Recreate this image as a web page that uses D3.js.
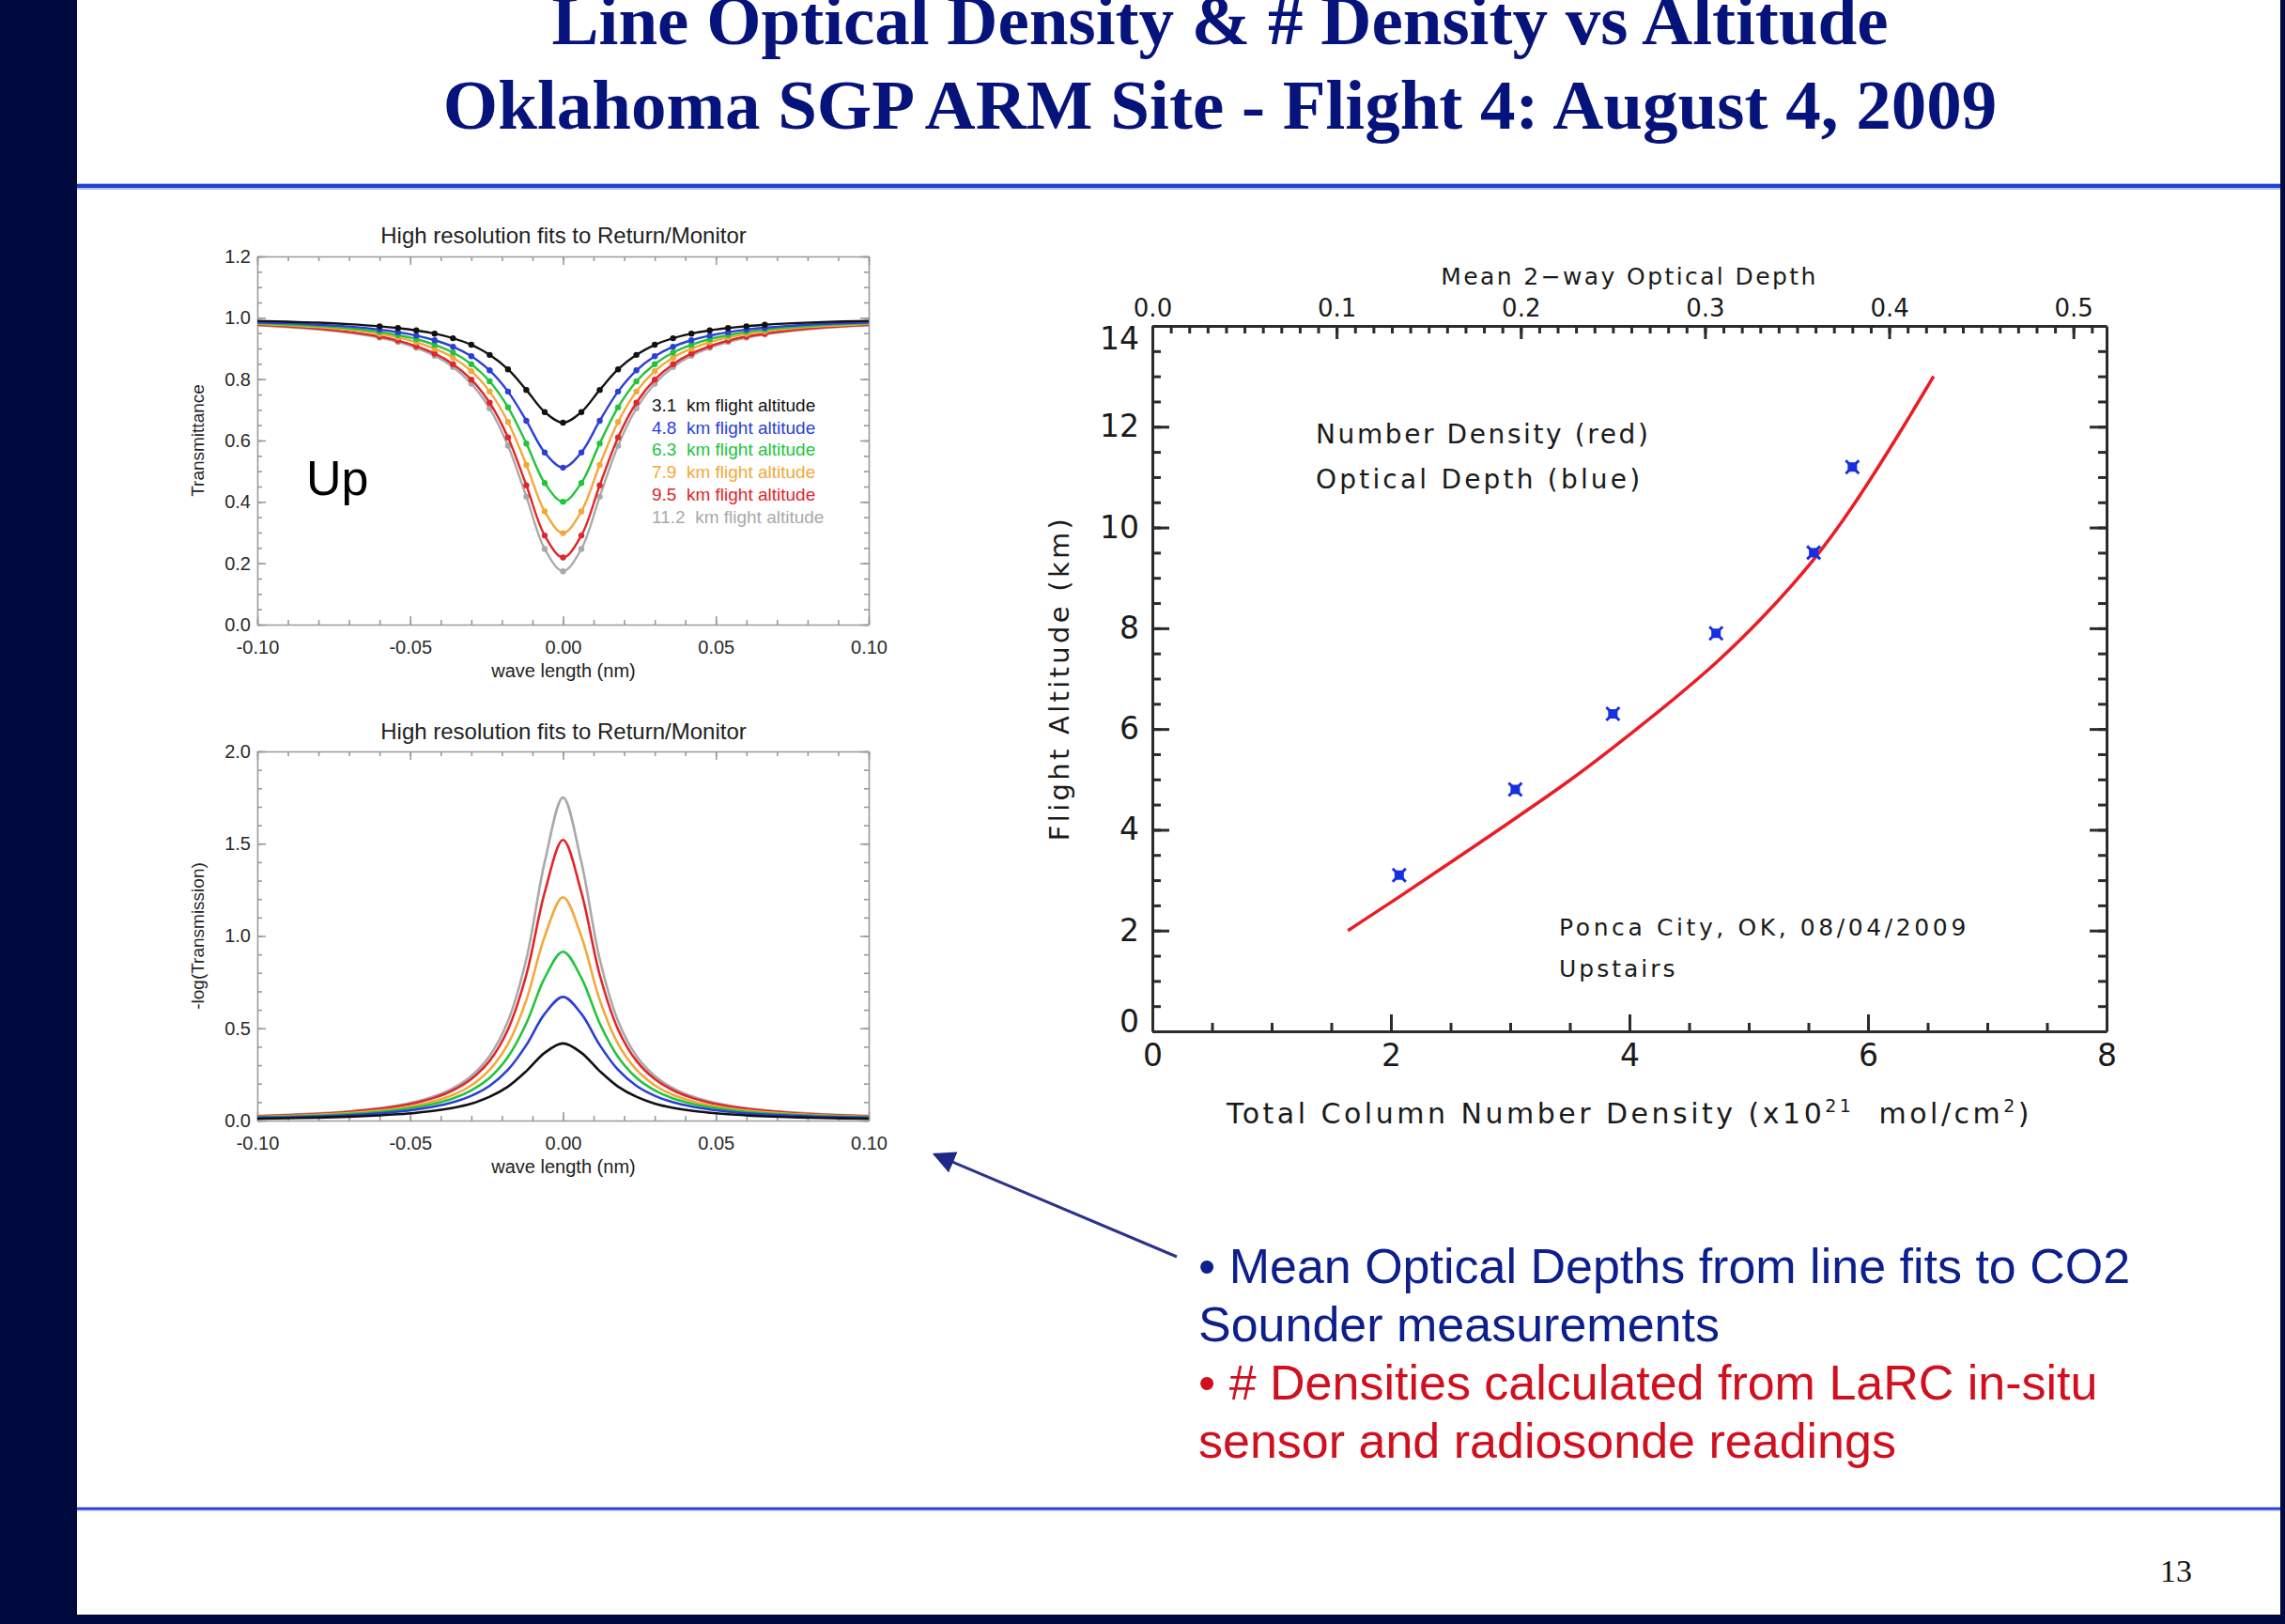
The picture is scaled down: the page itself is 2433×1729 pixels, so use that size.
<!DOCTYPE html>
<html>
<head>
<meta charset="utf-8">
<script src="https://cdn.jsdelivr.net/npm/d3@7"></script>
<style>
body{margin:0;background:#fff;}
svg{display:block;}
</style>
</head>
<body>
<div id="slide"></div>
<script>
// wavelength grid (nm) of the line fits
var waveNm = [-0.100,-0.090,-0.080,-0.070,-0.060,-0.054,-0.048,-0.042,-0.036,-0.030,-0.024,-0.018,-0.012,-0.006,0.000,
  0.006,0.012,0.018,0.024,0.030,0.036,0.042,0.048,0.054,0.060,0.066,0.075,0.085,0.100];

// -log(Transmission), one array per flight altitude
var abs31  = [0.010,0.013,0.016,0.021,0.028,0.034,0.042,0.053,0.069,0.092,0.129,0.184,0.268,0.367,0.418,0.367,0.268,0.184,0.129,0.092,0.069,0.053,0.042,0.034,0.028,0.023,0.018,0.014,0.010];
var abs48  = [0.015,0.018,0.023,0.029,0.039,0.048,0.060,0.076,0.099,0.134,0.188,0.275,0.409,0.578,0.670,0.578,0.409,0.275,0.188,0.134,0.099,0.076,0.060,0.048,0.039,0.033,0.026,0.020,0.015];
var abs63  = [0.018,0.022,0.027,0.035,0.047,0.058,0.072,0.092,0.120,0.164,0.232,0.345,0.527,0.773,0.915,0.773,0.527,0.345,0.232,0.164,0.120,0.092,0.072,0.058,0.047,0.039,0.031,0.024,0.018];
var abs79  = [0.020,0.025,0.031,0.040,0.054,0.066,0.083,0.106,0.139,0.191,0.275,0.415,0.653,0.997,1.210,0.997,0.653,0.415,0.275,0.191,0.139,0.106,0.083,0.066,0.054,0.045,0.035,0.028,0.020];
var abs95  = [0.023,0.029,0.036,0.047,0.063,0.077,0.097,0.124,0.164,0.225,0.324,0.494,0.790,1.236,1.520,1.236,0.790,0.494,0.324,0.225,0.164,0.124,0.097,0.077,0.063,0.053,0.041,0.032,0.023];
var abs112 = [0.025,0.031,0.039,0.050,0.067,0.082,0.103,0.132,0.175,0.242,0.350,0.539,0.875,1.400,1.750,1.400,0.875,0.539,0.350,0.242,0.175,0.132,0.103,0.082,0.067,0.056,0.044,0.034,0.025];

var altitudesKm = [3.1, 4.8, 6.3, 7.9, 9.5, 11.2];

// right panel: number density fit (red) and optical depth points (blue)
var fitDensity  = [1.64, 2.06, 2.5, 3.04, 3.5, 3.86, 4.3, 4.73, 5.15, 5.55, 5.86, 6.26, 6.55];
var fitAltitude = [2.0, 2.65, 3.35, 4.22, 4.97, 5.62, 6.45, 7.3, 8.28, 9.35, 10.35, 11.85, 13.0];
var obsOpticalDepth = [0.134, 0.197, 0.250, 0.306, 0.359, 0.380];

// tick labels
var transTicks = [0.0, 0.2, 0.4, 0.6, 0.8, 1.0, 1.2];
var absTicks = [0.0, 0.5, 1.0, 1.5, 2.0];
var waveTicks = [-0.10, -0.05, 0.00, 0.05, 0.10];
var densTicks = [0, 2, 4, 6, 8];
var altTicks = [0, 2, 4, 6, 8, 10, 12, 14];
var odTicks = [0.0, 0.1, 0.2, 0.3, 0.4, 0.5];

var seriesColor = ["#111111", "#2b3fd6", "#22c43c", "#f3a83a", "#e0262a", "#a9a9a9"];
var absSeries = [abs31, abs48, abs63, abs79, abs95, abs112];

var W = 2433, H = 1729;
var navy = "#010a3e";

var svg = d3.select("#slide").append("svg")
  .attr("width", W).attr("height", H);

svg.append("rect").attr("width", W).attr("height", H).attr("fill", "#fff");

// slide frame
svg.append("rect").attr("x", 0).attr("y", 0).attr("width", 82).attr("height", H).attr("fill", navy);
svg.append("rect").attr("x", 2428).attr("y", 0).attr("width", 5).attr("height", H).attr("fill", navy);
svg.append("rect").attr("x", 0).attr("y", 1719).attr("width", W).attr("height", 10).attr("fill", navy);

svg.append("rect").attr("x", 82).attr("y", 195).attr("width", 2346).attr("height", 7).attr("fill", "#b8c2f0");
svg.append("rect").attr("x", 82).attr("y", 196).attr("width", 2346).attr("height", 4).attr("fill", "#2443d6");
svg.append("rect").attr("x", 82).attr("y", 1604).attr("width", 2346).attr("height", 5).attr("fill", "#c2cbf2");
svg.append("rect").attr("x", 82).attr("y", 1605).attr("width", 2346).attr("height", 2.5).attr("fill", "#2443d6");

// title
var title = svg.append("g")
  .attr("font-family", "'Liberation Serif', 'Times New Roman', serif")
  .attr("font-weight", "bold")
  .attr("font-size", 75)
  .attr("fill", "#06137a")
  .attr("text-anchor", "middle");
title.append("text").attr("x", 1299).attr("y", 47).text("Line Optical Density & # Density vs Altitude");
title.append("text").attr("x", 1299).attr("y", 137).text("Oklahoma SGP ARM Site - Flight 4: August 4, 2009");

// page number
svg.append("text").attr("x", 2300).attr("y", 1684)
  .attr("font-family", "'Liberation Serif', serif").attr("font-size", 34).attr("fill", "#111")
  .text("13");

// box with inward ticks on all four sides
function boxSide(g, gen, scale, transform, major, minor, o, showLabels) {
  var a = g.append("g").attr("transform", transform)
    .call(gen(scale).tickValues(minor).tickSize(-o.minLen).tickSizeOuter(0).tickFormat(""));
  var b = g.append("g").attr("transform", transform)
    .call(gen(scale).tickValues(major).tickSize(-o.majLen).tickSizeOuter(0)
      .tickPadding(o.pad).tickFormat(showLabels ? o.fmt : ""));
  a.select(".domain").attr("stroke", o.color).attr("stroke-width", o.width);
  b.select(".domain").remove();
  [a, b].forEach(function(s) {
    s.selectAll(".tick line").attr("stroke", o.color).attr("stroke-width", o.width);
  });
  b.attr("font-family", o.font).attr("font-size", o.fontSize);
  b.selectAll("text").attr("fill", o.textColor);
  return b;
}

// ---------- left panels ----------
var xW = d3.scaleLinear().domain([-0.1, 0.1]).range([274, 925]);
var waveMinor = d3.range(-10, 11).map(function(d) { return d / 100; });
var leftFont = "'Liberation Sans', Arial, sans-serif";

function leftPanel(y, yMajor, yMinor, ylabel, titleY) {
  var g = svg.append("g");
  var o = {minLen: 5, majLen: 9, pad: 17, color: "#9a9a9a", width: 1.6, font: leftFont,
           fontSize: 20, textColor: "#2a2a2a", fmt: function(d) { return d.toFixed(2); }};
  boxSide(g, d3.axisBottom, xW, "translate(0," + y.range()[0] + ")", waveTicks, waveMinor, o, true);
  boxSide(g, d3.axisTop, xW, "translate(0," + y.range()[1] + ")", waveTicks, waveMinor, o, false);
  var oy = Object.assign({}, o, {pad: 7, fmt: function(d) { return d.toFixed(1); }});
  boxSide(g, d3.axisLeft, y, "translate(274,0)", yMajor, yMinor, oy, true);
  boxSide(g, d3.axisRight, y, "translate(925,0)", yMajor, yMinor, oy, false);

  g.append("text").attr("x", 600).attr("y", titleY)
    .attr("font-family", leftFont).attr("font-size", 24).attr("fill", "#222")
    .attr("text-anchor", "middle").text("High resolution fits to Return/Monitor");
  g.append("text").attr("x", 600).attr("y", y.range()[0] + 56)
    .attr("font-family", leftFont).attr("font-size", 20).attr("fill", "#222")
    .attr("text-anchor", "middle").text("wave length (nm)");
  var cy = (y.range()[0] + y.range()[1]) / 2;
  g.append("text").attr("transform", "translate(217," + cy + ") rotate(-90)")
    .attr("font-family", leftFont).attr("font-size", 19).attr("fill", "#222")
    .attr("text-anchor", "middle").text(ylabel);
  return g;
}

// upper: transmittance
var yT = d3.scaleLinear().domain([0, 1.2]).range([665, 273]);
var gTop = leftPanel(yT, transTicks, d3.range(0, 25).map(function(d) { return d * 0.05; }), "Transmittance", 259);

var lineT = d3.line()
  .x(function(d, i) { return xW(waveNm[i]); })
  .y(function(d) { return yT(Math.exp(-d)); })
  .curve(d3.curveCatmullRom.alpha(0.5));

var clipT = svg.append("clipPath").attr("id", "clipT");
clipT.append("rect").attr("x", 274).attr("y", 273).attr("width", 651).attr("height", 392);

var topLines = gTop.append("g").attr("clip-path", "url(#clipT)");
absSeries.slice().reverse().forEach(function(s, k) {
  var i = absSeries.length - 1 - k;
  topLines.append("path").datum(s)
    .attr("d", lineT).attr("fill", "none")
    .attr("stroke", seriesColor[i]).attr("stroke-width", 2.4);
  var pts = s.map(function(v, j) { return {w: waveNm[j], v: v}; })
    .filter(function(p) { return p.w >= -0.06 && p.w <= 0.066; });
  topLines.selectAll(null)
    .data(pts).enter()
    .append("circle")
      .attr("cx", function(p) { return xW(p.w); })
      .attr("cy", function(p) { return yT(Math.exp(-p.v)); })
      .attr("r", 3.2)
      .attr("fill", seriesColor[i]);
});

gTop.append("text").attr("x", 326).attr("y", 527)
  .attr("font-family", leftFont).attr("font-size", 52).attr("fill", "#000").text("Up");

gTop.selectAll(".legend")
  .data(altitudesKm).enter()
  .append("text")
    .attr("class", "legend")
    .attr("x", 694)
    .attr("y", function(d, i) { return 438 + i * 23.7; })
    .attr("font-family", leftFont).attr("font-size", 19)
    .attr("fill", function(d, i) { return seriesColor[i]; })
    .style("white-space", "pre")
    .text(function(d) { return d.toFixed(1) + "  km flight altitude"; });

// lower: -log(transmission)
var yA = d3.scaleLinear().domain([0, 2]).range([1193, 800]);
var gBot = leftPanel(yA, absTicks, d3.range(0, 21).map(function(d) { return d / 10; }), "-log(Transmission)", 787);

var lineA = d3.line()
  .x(function(d, i) { return xW(waveNm[i]); })
  .y(function(d) { return yA(d); })
  .curve(d3.curveCatmullRom.alpha(0.5));

absSeries.slice().reverse().forEach(function(s, k) {
  var i = absSeries.length - 1 - k;
  gBot.append("path").datum(s)
    .attr("d", lineA).attr("fill", "none")
    .attr("stroke", seriesColor[i]).attr("stroke-width", 2.6);
});

// ---------- right panel ----------
var xDen = d3.scaleLinear().domain([0, 8]).range([1227, 2243]);
var xOD = d3.scaleLinear().domain([0, 0.518]).range([1227, 2243]);
var yAlt = d3.scaleLinear().domain([0, 14]).range([1098, 347]);
var idlFont = "'DejaVu Sans', Verdana, sans-serif";

var gR = svg.append("g");
var oR = {minLen: 9, majLen: 18, pad: 14, color: "#2b2b2b", width: 3, font: idlFont,
          fontSize: 33, textColor: "#1a1a1a", fmt: function(d) { return d; }};
boxSide(gR, d3.axisBottom, xDen, "translate(0,1098)", densTicks, d3.range(0, 8.01, 0.5), oR, true);
boxSide(gR, d3.axisLeft, yAlt, "translate(1227,0)", altTicks, d3.range(0, 14.01, 0.5), oR, true)
  .selectAll("text").attr("dy", function(d) { return d === 14 ? "0.75em" : (d === 0 ? "0" : "0.32em"); });
boxSide(gR, d3.axisRight, yAlt, "translate(2243,0)", altTicks, d3.range(0, 14.01, 0.5), oR, false);
var oTop = Object.assign({}, oR, {minLen: 8, majLen: 14, pad: 10, fontSize: 26,
  fmt: function(d) { return d.toFixed(1); }});
boxSide(gR, d3.axisTop, xOD, "translate(0,347)", odTicks, d3.range(0, 0.5185, 0.01), oTop, true);

gR.append("text").attr("x", 1735).attr("y", 303)
  .attr("font-family", idlFont).attr("font-size", 25).attr("fill", "#1a1a1a")
  .attr("letter-spacing", 2.4)
  .attr("text-anchor", "middle").text("Mean 2\u2212way Optical Depth");

var xt = gR.append("text").attr("x", 1735).attr("y", 1196)
  .attr("font-family", idlFont).attr("font-size", 30).attr("fill", "#1a1a1a")
  .attr("letter-spacing", 3.5)
  .attr("text-anchor", "middle").style("white-space", "pre");
xt.append("tspan").text("Total Column Number Density (x10");
xt.append("tspan").attr("dy", -12).attr("font-size", 19).text("21");
xt.append("tspan").attr("dy", 12).text("  mol/cm");
xt.append("tspan").attr("dy", -12).attr("font-size", 19).text("2");
xt.append("tspan").attr("dy", 12).text(")");

gR.append("text").attr("transform", "translate(1138,722) rotate(-90)")
  .attr("font-family", idlFont).attr("font-size", 29).attr("fill", "#1a1a1a")
  .attr("letter-spacing", 3.3)
  .attr("text-anchor", "middle").text("Flight Altitude (km)");

var notes = gR.append("g").attr("font-family", idlFont).attr("fill", "#1a1a1a");
notes.append("text").attr("x", 1401).attr("y", 472).attr("font-size", 28).attr("letter-spacing", 2.6).text("Number Density (red)");
notes.append("text").attr("x", 1401).attr("y", 520).attr("font-size", 28).attr("letter-spacing", 3.2).text("Optical Depth (blue)");
notes.append("text").attr("x", 1660).attr("y", 996).attr("font-size", 25).attr("letter-spacing", 3.6).text("Ponca City, OK, 08/04/2009");
notes.append("text").attr("x", 1660).attr("y", 1040).attr("font-size", 25).attr("letter-spacing", 3.0).text("Upstairs");

var fitLine = d3.line()
  .x(function(d, i) { return xDen(fitDensity[i]); })
  .y(function(d) { return yAlt(d); })
  .curve(d3.curveBasis);

gR.append("path").datum(fitAltitude)
  .attr("d", fitLine).attr("fill", "none")
  .attr("stroke", "#ea1c24").attr("stroke-width", 3.5);

var marks = gR.selectAll(".od")
  .data(obsOpticalDepth).enter()
  .append("g")
    .attr("class", "od")
    .attr("transform", function(d, i) { return "translate(" + xOD(d) + "," + yAlt(altitudesKm[i]) + ")"; });
marks.append("rect").attr("x", -5).attr("y", -5).attr("width", 10).attr("height", 10).attr("fill", "#1630e0");
marks.append("path").attr("d", "M-7,-7L7,7M-7,7L7,-7").attr("stroke", "#1630e0").attr("stroke-width", 3);

// ---------- annotation ----------
var arrowDefs = svg.append("defs");
arrowDefs.append("marker")
  .attr("id", "arrowhead")
  .attr("viewBox", "0 0 10 10")
  .attr("refX", 9).attr("refY", 5)
  .attr("markerWidth", 8).attr("markerHeight", 8)
  .attr("markerUnits", "strokeWidth")
  .attr("orient", "auto")
  .append("path").attr("d", "M0,0L10,5L0,10Z").attr("fill", "#1f2a86");

svg.append("line")
  .attr("x1", 1253).attr("y1", 1338).attr("x2", 995).attr("y2", 1229)
  .attr("stroke", "#2a3388").attr("stroke-width", 3)
  .attr("marker-end", "url(#arrowhead)");

var bullets = svg.append("g")
  .attr("font-family", "'Liberation Sans', Arial, sans-serif")
  .attr("font-size", 52);
var bulletLines = [
  {t: "\u2022 Mean Optical Depths from line fits to CO2", c: "#0c1f8c"},
  {t: "Sounder measurements", c: "#0c1f8c"},
  {t: "\u2022 # Densities calculated from LaRC in-situ", c: "#d0101e"},
  {t: "sensor and radiosonde readings", c: "#d0101e"}
];
bullets.selectAll("text")
  .data(bulletLines).enter()
  .append("text")
    .attr("x", 1276)
    .attr("y", function(d, i) { return 1366 + i * 62; })
    .attr("fill", function(d) { return d.c; })
    .text(function(d) { return d.t; });
</script>
</body>
</html>
